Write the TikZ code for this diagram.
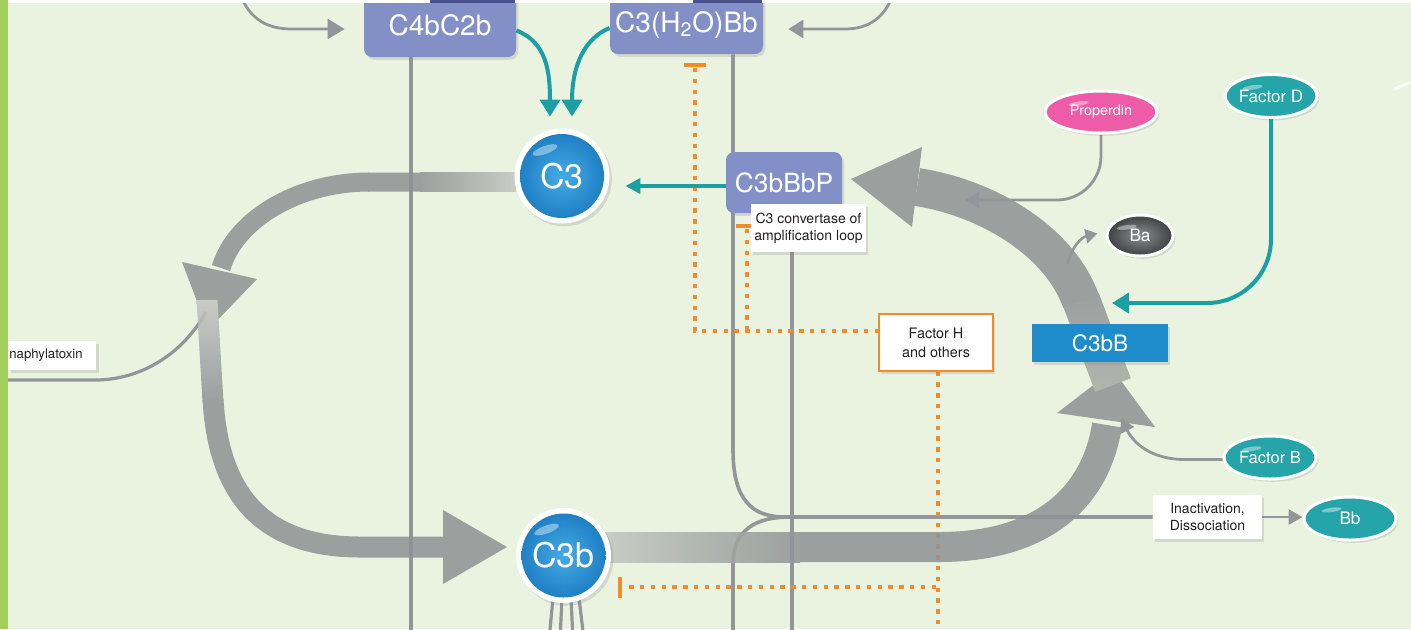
\documentclass[tikz,border=0pt]{standalone}
\usepackage{fontspec}
\setmainfont{TeX Gyre Heros}
\usetikzlibrary{arrows.meta,shadows,shapes.geometric,calc}
\pgfdeclarelayer{lA}
\pgfdeclarelayer{lB}
\pgfdeclarelayer{lC}
\pgfdeclarelayer{lD}
\pgfdeclarelayer{lTop}
\pgfsetlayers{lA,lB,lC,lD,main,lTop}
\definecolor{bgC}{HTML}{EAF3DF}
\definecolor{barC}{HTML}{A3CF5F}
\definecolor{periC}{HTML}{8390C8}
\definecolor{periD}{HTML}{46518E}
\definecolor{tealC}{HTML}{1A9FA5}
\definecolor{tealE}{HTML}{25A4AA}
\definecolor{lineC}{HTML}{939598}
\definecolor{bandC}{HTML}{8F9294}
\definecolor{bandL}{HTML}{C3C6C0}
\definecolor{bandM}{HTML}{A9ACA8}
\definecolor{orngC}{HTML}{F28B2A}
\definecolor{blueC}{HTML}{1E8BCB}
\definecolor{pinkC}{HTML}{EE5CA7}
\definecolor{ballI}{HTML}{45ABE4}
\definecolor{ballO}{HTML}{1A7AC1}
\definecolor{txtC}{HTML}{231F20}
\definecolor{baI}{HTML}{8C8D8F}
\definecolor{baO}{HTML}{3F4042}
\begin{document}
\begin{tikzpicture}[x=0.5pt,y=-0.5pt,
  shd/.style={drop shadow={opacity=0.22,shadow xshift=1.2pt,shadow yshift=-1.4pt}},
  cbox/.style={shd,fill=periC,rounded corners=4pt,text=white,inner sep=0pt,font=\fontsize{14}{16}\selectfont},
  lab/.style={shd,fill=white,text=txtC,inner sep=0pt,align=center},
  gline/.style={draw=lineC,line width=1.8pt},
  tarrow/.style={draw=tealC,line width=2pt,-{Triangle[width=10pt,length=8.5pt]}},
  garrow/.style={draw=lineC,line width=1.4pt,-{Triangle[width=8pt,length=7pt]}},
  inh/.style={draw=orngC,line width=2pt,dash pattern=on 2.2pt off 3.2pt},
  tbar/.style={draw=orngC,line width=2pt},
  hl/.style={path picture={\fill[white,opacity=.4] ($(path picture bounding box.north west)!0.3!(path picture bounding box.south east)$) ellipse[x radius=5pt,y radius=1.1pt,rotate=8];}},
  oval/.style={ellipse,shd,draw=white,line width=1.5pt,text=white,inner sep=0pt,hl},
  ball/.style={circle,shd,fill=white,minimum size=47.5pt,inner sep=0pt,text=white,font=\fontsize{17}{20}\selectfont,
     path picture={\shade[inner color=ballI,outer color=ballO] (path picture bounding box.center) circle[radius=21pt];
       \fill[white,opacity=.4] ($(path picture bounding box.center)+(-17,-26)$) ellipse[x radius=6.5pt,y radius=2pt,rotate=20];}},
]
\useasboundingbox (0,0) rectangle (1411,629);
\begin{pgfonlayer}{lA}
\fill[bgC] (0,0) rectangle (1411,629);
\end{pgfonlayer}

% ---------- nodes ----------
\node[cbox,minimum width=76pt,minimum height=31.5pt] (C4bC2b) at (440,25.5) {C4bC2b};
\node[cbox,minimum width=76.5pt,minimum height=29pt] (C3HOBb) at (686.5,25) {C3(H\textsubscript{2}O)Bb};
\node[cbox,minimum width=58pt,minimum height=30.5pt,font=\fontsize{13.2}{15}\selectfont] (C3bBbP) at (784,182.5) {C3bBbP};
\node[shd,fill=blueC,minimum width=68pt,minimum height=19pt,inner sep=0pt,text=white,font=\fontsize{11.3}{13}\selectfont] (C3bB) at (1100,343) {C3bB};
\node[ball] (C3) at (562,176) {C3};
\node[ball] (C3b) at (563.5,555.5) {C3b};
\node[lab,minimum width=57.5pt,minimum height=24pt,font=\fontsize{7}{8.3}\selectfont] (conv) at (808.5,228) {C3 convertase of\\amplification loop};
\node[lab,draw=orngC,line width=0.6pt,minimum width=57pt,minimum height=28.5pt,font=\fontsize{7.2}{9.6}\selectfont] (FH) at (936,342.5) {Factor H\\and others};
\node[lab,minimum width=54.5pt,minimum height=22pt,font=\fontsize{7}{8.3}\selectfont] (inact) at (1207.5,517) {Inactivation,\\Dissociation};
\node[lab,anchor=west,text width=43pt,align=left,inner xsep=0.5pt,minimum height=14.5pt,font=\fontsize{6.6}{8}\selectfont] (anaph) at (8,355.5) {naphylatoxin};
\node[oval,fill=pinkC,minimum width=56pt,minimum height=21pt,font=\fontsize{7.2}{8}\selectfont] (Prop) at (1101,112) {Properdin};
\node[oval,fill=tealE,minimum width=46pt,minimum height=21.5pt,font=\fontsize{8.5}{10}\selectfont] (FD) at (1271,96) {Factor D};
\node[oval,inner color=baI,outer color=baO,minimum width=33pt,minimum height=20.5pt,font=\fontsize{8.6}{10}\selectfont] (Ba) at (1140,235.5) {Ba};
\node[oval,fill=tealE,minimum width=46pt,minimum height=21.5pt,font=\fontsize{8.3}{10}\selectfont] (FB) at (1270,457.5) {Factor B};
\node[oval,fill=tealE,minimum width=46pt,minimum height=21.5pt,font=\fontsize{8.6}{10}\selectfont] (Bb) at (1350,518.5) {Bb};

% ---------- thin lines and inhibition ----------
\begin{pgfonlayer}{lB}
\draw[gline] ([xshift=-14.5pt]C4bC2b.south) -- (411,640);
\draw[gline] ([xshift=23.25pt]C3HOBb.south) -- (733,450) .. controls (733,500) and (752,517) .. (785,517) -- (inact.west);
\draw[gline] (790,517) .. controls (755,517) and (733,530) .. (733,565) -- (733,640);
\draw[gline] ([xshift=-8.25pt]conv.south) -- (792,640);
\draw[gline,line width=1.6pt] (0,380) -- (95,380) .. controls (140,380) and (182,355) .. (206,312);
\foreach \a/\b in {553/549,562/560,571/573,579/584}
  \draw[gline,line width=1.6pt] (\a,598) -- (\b,640);
\draw[tbar] (684,65) -- (706,65);
\draw[inh] (695,68) |- ([yshift=5.75pt]FH.west);
\draw[tbar] (736,226) -- (758,226);
\draw[inh] (747,229) -- (747,331);
\draw[inh] ([xshift=1pt]FH.south) -- (938,640);
\draw[inh] (936,587) -- (624,587);
\draw[tbar] (620,577) -- (620,598);
\end{pgfonlayer}

% ---------- big bands ----------
\begin{pgfonlayer}{lC}
\begin{scope}[transparency group,opacity=.86]
 \fill[bandC] (368,172.5) rectangle (421,191.5);
 \shade[left color=bandC,right color=bandL] (420,172.5) rectangle (516,191.5);
 \draw[bandC,line width=9.5pt] (369,182) .. controls (300,182) and (236,218) .. (221,268);
 \fill[bandC] (182,262) -- (257,279) -- (208,330) -- cycle;
 \shade[top color=bandL,bottom color=bandC] (196.5,300) -- (217.5,300) -- (223.5,402) -- (202.5,402) -- cycle;
 \draw[bandC,line width=10.5pt] (213,400) .. controls (218,480) and (250,547) .. (360,547) -- (445,547);
 \fill[bandC] (443,510) -- (507,547) -- (443,584) -- cycle;
 \shade[left color=bandL,right color=bandC] (605,532) rectangle (800,562);
 \fill[bandC] (799,532) rectangle (940,562);
 \draw[bandC,line width=15pt] (939,547) .. controls (1045,547) and (1096,495) .. (1107,425);
 \fill[bandC] (1057,413) -- (1113,370) -- (1155,427) -- cycle;
 \shade[top color=bandC,bottom color=bandM] (1063.2,306.7) -- (1098.8,293.3) -- (1130.8,378.3) -- (1095.2,391.7) -- cycle;
 \draw[bandC,line width=19pt] (1081,301) .. controls (1058,238) and (983,197) .. (917,187);
 \fill[bandC] (922,147) -- (851,179) -- (912,227) -- cycle;
\end{scope}
\end{pgfonlayer}

% ---------- arrows ----------
\begin{pgfonlayer}{lD}
\draw[garrow,-{Triangle[width=10pt,length=8.5pt]}] (240,-6) .. controls (250,20) and (268,29) .. (292,29) -- ([xshift=-9.5pt,yshift=-1.75pt]C4bC2b.west);
\draw[garrow,-{Triangle[width=9pt,length=7.5pt]}] (893,-6) .. controls (885,18) and (868,29) .. (845,29) -- ([xshift=12.5pt,yshift=-2pt]C3HOBb.east);
\draw[tarrow] ([yshift=-2.5pt]C4bC2b.east) .. controls (546,42) and (550,70) .. ([xshift=-6pt,yshift=5.75pt]C3.north);
\draw[tarrow] ([yshift=-1.5pt]C3HOBb.west) .. controls (585,38) and (572,65) .. ([xshift=5pt,yshift=5.75pt]C3.north);
\draw[tarrow,-{Triangle[width=7.5pt,length=7.5pt]}] ([yshift=-1.75pt]C3bBbP.west) -- ([xshift=7.75pt,yshift=-5pt]C3.east);
\draw[tarrow,rounded corners=32pt] (FD.south) |- (1112,303);
\draw[garrow,-{Triangle[width=7.5pt,length=7pt]},rounded corners=22pt] (Prop.south) |- (965,200);
\draw[garrow,line width=1.3pt,-{Triangle[width=7pt,length=6pt]}] (1068,264) .. controls (1071,247) and (1082,237) .. ([xshift=-4pt,yshift=1pt]Ba.west);
\draw[garrow,-{Triangle[width=7.5pt,length=7pt]}] ([yshift=-1pt]FB.west) -- (1185,459.5) .. controls (1150,459.5) and (1133,442) .. (1121,418);
\draw[garrow,-{Triangle[width=7.5pt,length=7pt]}] (inact.east) -- (inact.east -| Bb.west);
\end{pgfonlayer}

% ---------- top decorations ----------
\begin{pgfonlayer}{lTop}
\fill[white] (8,0) rectangle (1411,3);
\fill[periD] (430,0) rectangle (515,3);
\fill[periD] (693,0) rectangle (762,3);
\fill[barC] (0,0) rectangle (8,629);
\draw[white,opacity=.8,line width=1.5pt,line cap=round] (1395,89) .. controls (1400,86) and (1405,84) .. (1412,83);
\end{pgfonlayer}
\end{tikzpicture}
\end{document}
